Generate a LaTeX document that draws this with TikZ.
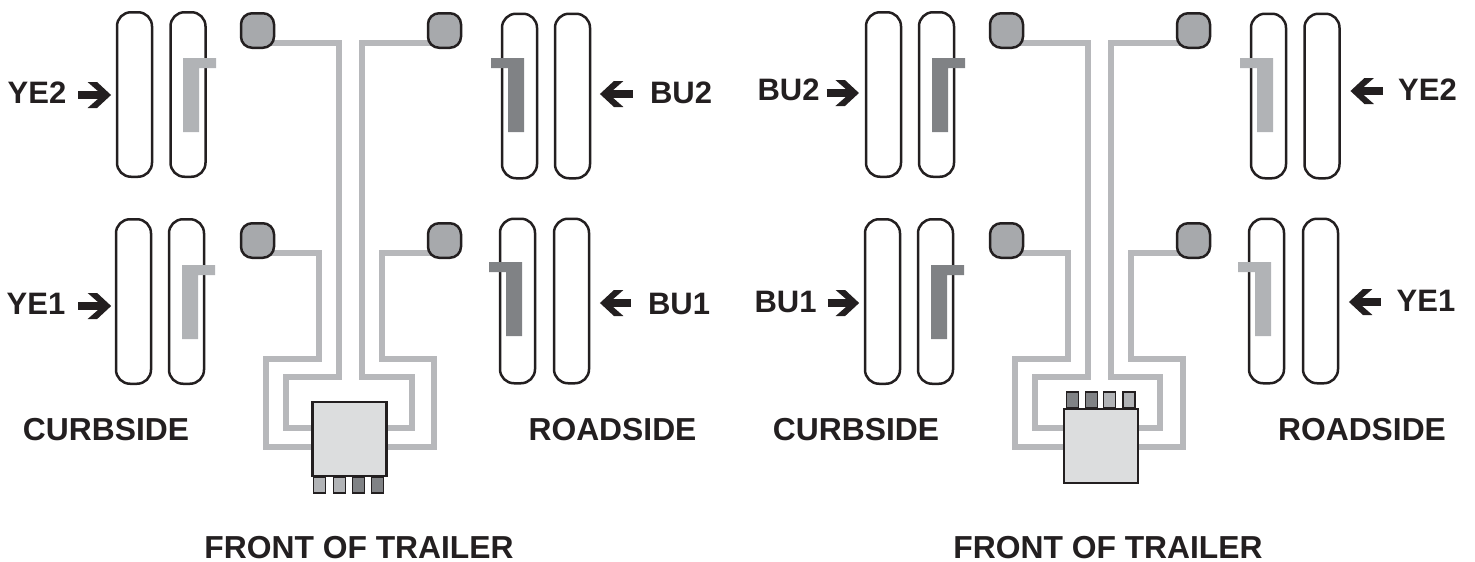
\documentclass[tikz,border=0pt]{standalone}
\usepackage{fontspec}
\setmainfont{Liberation Sans}
\usetikzlibrary{arrows.meta,backgrounds}
\definecolor{wirecol}{HTML}{B7B8BB}
\definecolor{lightcol}{HTML}{B1B3B6}
\definecolor{darkcol}{HTML}{808285}
\definecolor{sensorcol}{HTML}{A7A9AC}
\definecolor{boxcol}{HTML}{DCDDDE}
\definecolor{inkcol}{HTML}{231F20}
\pgfdeclarearrow{
	name=Chevron,
	setup code={
		\pgfarrowssettipend{0pt}
		\pgfarrowssetlineend{-13pt}
		\pgfarrowssetbackend{-23.5pt}
		\pgfarrowssetvisualbackend{-13pt}
	},
	drawing code={
		\pgfpathmoveto{\pgfqpoint{0pt}{0pt}}
		\pgfpathlineto{\pgfqpoint{-14pt}{13pt}}
		\pgfpathlineto{\pgfqpoint{-23.5pt}{13pt}}
		\pgfpathlineto{\pgfqpoint{-13pt}{3.8pt}}
		\pgfpathlineto{\pgfqpoint{-13pt}{-3.8pt}}
		\pgfpathlineto{\pgfqpoint{-23.5pt}{-13pt}}
		\pgfpathlineto{\pgfqpoint{-14pt}{-13pt}}
		\pgfpathclose
		\pgfusepathqfill
	}
}
\tikzset{
	tire/.style={draw=inkcol, line width=2.5pt, rounded corners=14pt, minimum width=35pt, minimum height=164.5pt, inner sep=0pt},
	sensor/.style={draw=inkcol, fill=sensorcol, line width=2.5pt, rounded corners=11pt, minimum width=33pt, minimum height=34.5pt, inner sep=0pt},
	ctlbox/.style={draw=inkcol, fill=boxcol, line width=2.8pt, minimum width=74pt, minimum height=74pt, inner sep=0pt},
	pin/.style={draw=inkcol, line width=1.2pt, minimum width=12pt, minimum height=16pt, inner sep=0pt},
	wire/.style={draw=wirecol, line width=5.5pt},
	pointer/.style={color=inkcol, line width=7.6pt, -{Chevron[]}},
	lab/.style={text=inkcol, inner sep=0pt, font=\bfseries\fontsize{31}{31}\selectfont},
}
\begin{document}
\begin{tikzpicture}[x=1pt, y=-1pt]
	\useasboundingbox (0,0) rectangle (1475,562);
	% tires, brackets go on top of them
	\foreach \n\x\y in {1/134.5/94.5,2/188/94.5,3/519.5/96,4/572.5/96,5/133.5/301.5,6/186.5/301.5,7/517.5/301,8/571.5/301,
		9/883.5/94.5,10/936.5/94.5,11/1268.5/96,12/1322/96,13/882.5/301.5,14/935.5/301.5,15/1266.5/301,16/1320.5/301}{
		\node[tire] (tire\n) at (\x,\y) {};
	}
	\foreach \x\y\d\c in {183/58/1/lightcol,182/265/1/lightcol,524/58/-1/darkcol,522/262/-1/darkcol,
		932/58/1/darkcol,931/265/1/darkcol,1273/58/-1/lightcol,1271/262/-1/lightcol}{
		\fill[\c] (\x,\y) -- ++(\d*33,0) -- ++(0,10) -- ++(-\d*17,0) -- ++(0,64) -- ++(-\d*16,0) -- cycle;
	}
	% sensors
	\foreach \n\x\y in {1/257.5/30.5,2/444.5/30.5,3/257.5/240.5,4/444.5/240.5,
		5/1006.5/30.5,6/1193.5/30.5,7/1006.5/240.5,8/1193.5/240.5}{
		\node[sensor] (sensor\n) at (\x,\y) {};
	}
	% pins, then the boxes over them
	\foreach \n\x\c in {1/319.7/lightcol,2/339.5/lightcol,3/358.5/darkcol,4/377.2/darkcol}{
		\node[pin, fill=\c] (pinl\n) at (\x,485) {};
	}
	\foreach \n\x\c in {1/1072.5/darkcol,2/1091.5/darkcol,3/1109.5/lightcol,4/1129/lightcol}{
		\node[pin, fill=\c] (pinr\n) at (\x,400) {};
	}
	\node[ctlbox] (boxl) at (349.5,439) {};
	\node[ctlbox] (boxr) at (1101,446) {};
	% wires: sensor, two bends, box side
	\begin{pgfonlayer}{background}
		\foreach \s\xa\ya\xb\yb\b\e in {1/339/377/286/428/boxl/west,2/362/377/412/428/boxl/east,
			3/319/359/266/447/boxl/west,4/382/359/434/447/boxl/east,
			5/1088/377/1035/428/boxr/west,6/1111/377/1160/428/boxr/east,
			7/1068/359/1015/447/boxr/west,8/1131/359/1183/447/boxr/east}{
			\draw[wire] ([yshift=-12.5pt]sensor\s.center) -| (\xa,\ya) -| (\xb,\yb) -- (\b.\e |- 0,\yb);
		}
	\end{pgfonlayer}
	% labels pointing right, at the curbside
	\foreach \n\t\x\y\ay\g\h in {YE2/1/37/93/95/12/4.7,YE1/5/36/303.5/306/13/3.6,BU2/9/788.5/89.5/93/7/5.8,BU1/13/785.5/301.5/303/11/4.6}{
		\node[lab] (lab\t) at (\x,\y) {\n};
		\draw[pointer, shorten <=\g pt, shorten >=\h pt] (lab\t.east |- 0,\ay) -- (tire\t.west |- 0,\ay);
	}
	% labels pointing left, at the roadside
	\foreach \n\t\x\y\ay\g\h in {BU2/4/681/93/94/17/8.7,BU1/8/679/303.5/303/17/9.7,YE2/12/1427.5/89.5/91/15/9.7,YE1/16/1426/301/302/16/9.7}{
		\node[lab] (lab\t) at (\x,\y) {\n};
		\draw[pointer, shorten <=\g pt, shorten >=\h pt] (lab\t.west |- 0,\ay) -- (tire\t.east |- 0,\ay);
	}
	\foreach \n\t\x in {1/CURBSIDE/106,2/ROADSIDE/612.5,3/CURBSIDE/856,4/ROADSIDE/1362}{
		\node[lab, font=\bfseries\fontsize{31.8}{32}\selectfont] (side\n) at (\x,430) {\t};
	}
	\node[lab, font=\bfseries\fontsize{31.8}{32}\selectfont] (frontl) at (359,547.5) {FRONT OF TRAILER};
	\node[lab, font=\bfseries\fontsize{31.8}{32}\selectfont] (frontr) at (1108,547.5) {FRONT OF TRAILER};
\end{tikzpicture}
\end{document}
